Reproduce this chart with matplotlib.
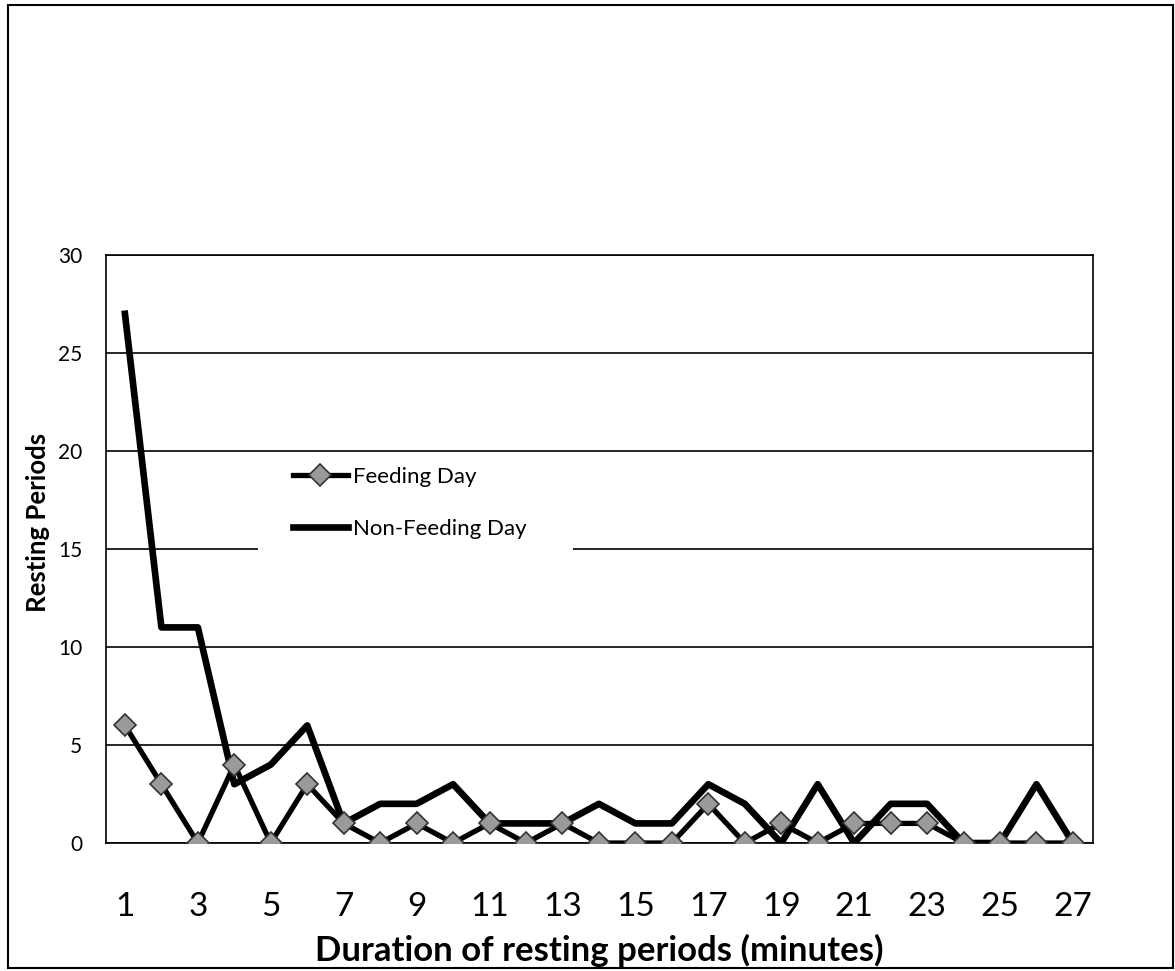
import matplotlib
matplotlib.use("Agg")
import matplotlib.pyplot as plt
from matplotlib.patches import Rectangle

plt.rcParams['font.family'] = ['Lato', 'DejaVu Sans']

# minutes of rest (categories)
minutes = list(range(1, 28))
feeding = [6, 3, 0, 4, 0, 3, 1, 0, 1, 0, 1, 0, 1, 0, 0, 0, 2, 0, 1, 0, 1, 1, 1, 0, 0, 0, 0]
non_feeding = [27, 11, 11, 3, 4, 6, 1, 2, 2, 3, 1, 1, 1, 2, 1, 1, 3, 2, 0, 3, 0, 2, 2, 0, 0, 3, 0]
yticks = [0, 5, 10, 15, 20, 25, 30]
xticks = list(range(1, 28, 2))

fig = plt.figure(figsize=(11.75, 9.71), dpi=100)
# outer frame of the scanned chart
fig.patches.append(Rectangle((0.007, 0.003), 0.991, 0.992, transform=fig.transFigure,
                             fill=False, edgecolor='black', linewidth=1.5))

ax = fig.add_axes([0.0902, 0.1318, 0.84, 0.6056])
ax.plot(minutes, non_feeding, color='black', linewidth=4.8, label='Non-Feeding Day', zorder=3)
ax.plot(minutes, feeding, color='black', linewidth=3.8, marker='D', markersize=11,
        markerfacecolor='#9a9a9a', markeredgecolor='#333333', markeredgewidth=1.2,
        label='Feeding Day', zorder=4)

ax.set_xlim(0.48, 27.55)
ax.set_ylim(0, 30)
ax.set_yticks(yticks)
ax.set_xticks(xticks)
ax.tick_params(axis='y', labelsize=15, length=0, pad=17)
ax.tick_params(axis='x', labelsize=24, length=0, pad=35)
ax.yaxis.grid(True, color='black', linewidth=1.2)
ax.set_axisbelow(True)
for s in ax.spines.values():
    s.set_linewidth(1.2)

ax.set_xlabel('Duration of resting periods (minutes)', fontsize=25, fontweight='bold', va='center')
ax.xaxis.set_label_coords(0.5, -0.182)
ax.set_ylabel('Resting Periods', fontsize=18.5, fontweight='bold', va='center')
ax.yaxis.set_label_coords(-0.069, 0.546)

# white box behind the legend hides part of the gridline at 15
ax.add_patch(Rectangle((0.154, 0.481), 0.319, 0.179, transform=ax.transAxes,
                       facecolor='white', edgecolor='none', zorder=2))

handles, labels = ax.get_legend_handles_labels()
leg = ax.legend(handles[::-1], labels[::-1], loc='upper left', bbox_to_anchor=(0.189, 0.64),
                frameon=False, fontsize=16, handlelength=2.5, handletextpad=0.2,
                labelspacing=1.45, borderpad=0, borderaxespad=0)

fig.savefig('out.png', dpi=100)
